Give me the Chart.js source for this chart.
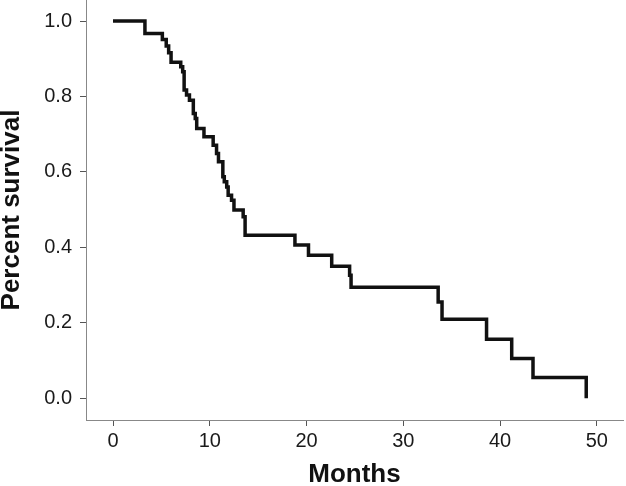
<!DOCTYPE html>
<html>
<head>
<meta charset="utf-8">
<script src="https://cdn.jsdelivr.net/npm/chart.js@4/dist/chart.umd.min.js"></script>
<style>
  html, body { margin: 0; padding: 0; background: #fff; }
  .chart-container { position: relative; width: 626px; height: 486px; }
</style>
</head>
<body>
<div class="chart-container">
  <canvas id="kmChart"></canvas>
</div>
<script>
// Kaplan-Meier curve
const months = [0, 3.3, 5.1, 5.5, 5.75, 6.0, 7.0, 7.2, 7.35, 7.6, 7.9, 8.3, 8.5, 8.65, 9.4, 10.35,
  10.7, 10.9, 11.35, 11.5, 11.75, 11.9, 12.25, 12.5, 13.45, 13.65, 18.8, 20.2, 22.6, 24.45, 24.6,
  33.6, 34.0, 38.6, 41.2, 43.4, 48.9];
const survival = [1.0, 0.967, 0.951, 0.934, 0.916, 0.891, 0.879, 0.866, 0.817, 0.804, 0.79, 0.755,
  0.742, 0.715, 0.693, 0.671, 0.649, 0.627, 0.587, 0.574, 0.56, 0.538, 0.525, 0.499, 0.481, 0.432,
  0.406, 0.379, 0.35, 0.326, 0.294, 0.255, 0.209, 0.156, 0.105, 0.055, 0.0];
const xTicks = [0, 10, 20, 30, 40, 50];
const yTicks = [0.0, 0.2, 0.4, 0.6, 0.8, 1.0];

const points = months.map((m, i) => ({ x: m, y: survival[i] }));

const ctx = document.getElementById("kmChart").getContext("2d");
const myChart = new Chart(ctx, {
  type: "line",
  data: {
    datasets: [
      {
        label: "Survival",
        data: points,
        stepped: "before",
        borderColor: "#111",
        borderWidth: 3.5,
        pointRadius: 0,
        fill: false,
      },
    ],
  },
  options: {
    responsive: true,
    maintainAspectRatio: false,
    animation: false,
    layout: { padding: { top: 0, right: 3, bottom: 0, left: 0 } },
    plugins: { legend: { display: false }, tooltip: { enabled: false } },
    scales: {
      x: {
        type: "linear",
        min: -2.79,
        max: 52.7,
        afterBuildTicks: (axis) => { axis.ticks = xTicks.map((v) => ({ value: v })); },
        afterFit: (axis) => { axis.height = 66; },
        border: { display: true, color: "#888", width: 1 },
        grid: { drawOnChartArea: false, drawTicks: true, tickLength: 6, color: "#555" },
        ticks: {
          color: "#1a1a1a",
          padding: 3,
          maxRotation: 0,
          font: { family: "'Liberation Sans', Arial, sans-serif", size: 20 },
        },
        title: {
          display: true,
          text: "Months",
          color: "#111",
          padding: { top: 0, bottom: 0 },
          font: { family: "'Liberation Sans', Arial, sans-serif", size: 26, weight: "bold", lineHeight: 0.85 },
        },
      },
      y: {
        type: "linear",
        min: -0.058,
        max: 1.056,
        afterBuildTicks: (axis) => { axis.ticks = yTicks.map((v) => ({ value: v })); },
        afterFit: (axis) => {
          axis.width = 86;
          axis.paddingTop = 0;
          axis.paddingBottom = 0;
        },
        border: { display: true, color: "#888", width: 1 },
        grid: { drawOnChartArea: false, drawTicks: true, tickLength: 6, color: "#555" },
        ticks: {
          color: "#1a1a1a",
          padding: 8,
          callback: (v) => v.toFixed(1),
          font: { family: "'Liberation Sans', Arial, sans-serif", size: 20 },
        },
        title: {
          display: true,
          text: "Percent survival",
          color: "#111",
          padding: { top: 0, bottom: 0 },
          font: { family: "'Liberation Sans', Arial, sans-serif", size: 26, weight: "bold", lineHeight: 0.9 },
        },
      },
    },
  },
});
</script>
</body>
</html>
